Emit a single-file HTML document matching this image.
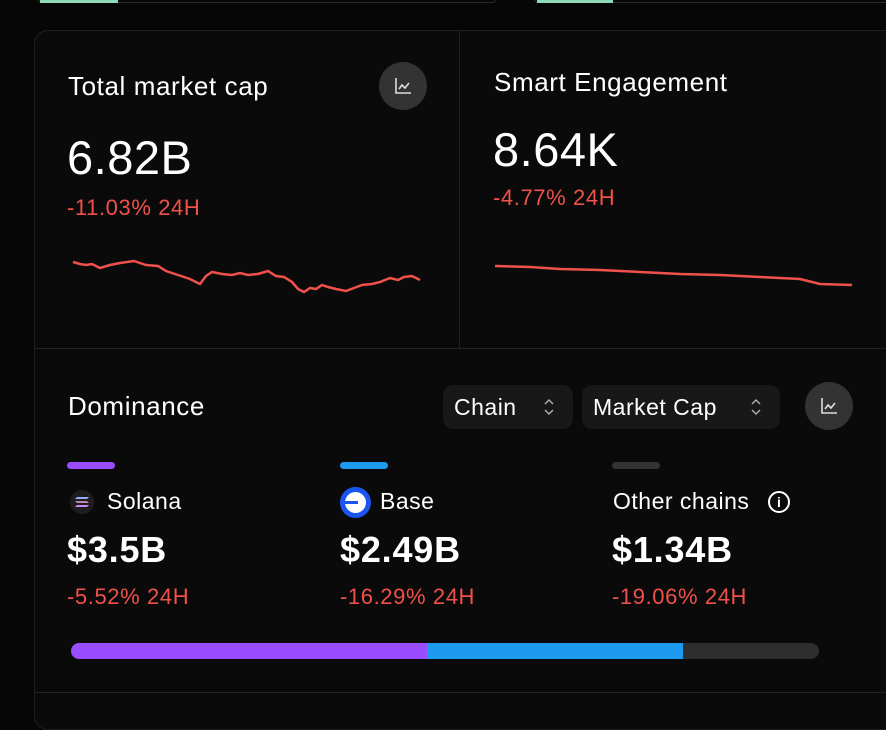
<!DOCTYPE html>
<html><head><meta charset="utf-8"><style>
*{margin:0;padding:0;box-sizing:border-box}
body{width:886px;height:710px;background:#060606;position:relative;overflow:hidden;font-family:"Liberation Sans",sans-serif;color:#fff}
.a{position:absolute;white-space:nowrap}
.t{font-size:26px;line-height:1;letter-spacing:0.6px}
.big{font-size:47px;line-height:1;letter-spacing:0.5px}
.red{color:#f0514a;font-size:22px;line-height:1;letter-spacing:0.6px}
.val{font-size:36px;font-weight:bold;line-height:1;letter-spacing:0.8px}
.nm{font-size:23px;line-height:1;letter-spacing:0.5px}
.btn{position:absolute;background:#181818;border-radius:10px;height:44px;font-size:23px;line-height:44px;padding-left:11px;letter-spacing:0.5px}
.circ{position:absolute;width:48px;height:48px;border-radius:50%;background:#333}
</style></head><body>
<div class="a" style="left:36px;top:-10px;width:462px;height:13px;border:1px solid #2a2a2a;border-radius:8px"></div>
<div class="a" style="left:40px;top:0;width:78px;height:3px;background:#8fd9b6"></div>
<div class="a" style="left:533px;top:-10px;width:360px;height:13px;border:1px solid #2a2a2a;border-radius:8px"></div>
<div class="a" style="left:537px;top:0;width:76px;height:3px;background:#8fd9b6"></div>
<div class="a" style="left:34px;top:30px;width:870px;height:700px;border:1px solid #1f1f1f;border-radius:14px;background:#0a0a0a"></div>
<div class="a" style="left:459px;top:31px;width:1px;height:318px;background:#222"></div>
<div class="a" style="left:35px;top:348px;width:851px;height:1px;background:#222"></div>
<div class="a" style="left:35px;top:692px;width:851px;height:1px;background:#222"></div>

<div class="a t" style="left:68px;top:73px">Total market cap</div>
<div class="circ" style="left:379px;top:62px"></div>
<svg class="a" style="left:393px;top:76px" width="20" height="20" viewBox="0 0 20 20"><path d="M3 2v15h15" stroke="#ddd" stroke-width="1.6" fill="none"/><path d="M6 13l3-4 3 3 4-5" stroke="#ddd" stroke-width="1.6" fill="none"/></svg>
<div class="a big" style="left:67px;top:134px">6.82B</div>
<div class="a red" style="left:67px;top:197px">-11.03% 24H</div>
<svg class="a" style="left:0;top:0" width="886" height="360"><polyline fill="none" stroke="#f0514a" stroke-width="2.5" points="73,262 80,264 86,265 92,264 100,268 110,265 120,263 134,261 146,265 158,266 166,271 178,275 190,279 200,284 206,276 212,272 222,274 232,275 240,273 248,275 258,274 268,271 276,276 284,277 292,282 298,289 304,292 310,288 316,289 322,285 328,287 336,289 346,291 354,288 362,285 372,284 380,282 390,278 398,280 404,277 412,276 420,280"/>
<polyline fill="none" stroke="#f0514a" stroke-width="2.5" points="495,266 530,267 560,269 600,270 640,272 680,274 720,275 760,277 800,279 820,284 852,285"/></svg>

<div class="a t" style="left:494px;top:69px">Smart Engagement</div>
<div class="a big" style="left:493px;top:126px">8.64K</div>
<div class="a red" style="left:493px;top:187px">-4.77% 24H</div>

<div class="a t" style="left:68px;top:393px">Dominance</div>
<div class="btn" style="left:443px;top:385px;width:130px">Chain
<svg class="a" style="right:18px;top:12px" width="12" height="20" viewBox="0 0 12 20"><path d="M2 7l4-4 4 4M2 13l4 4 4-4" stroke="#aaa" stroke-width="1.5" fill="none"/></svg></div>
<div class="btn" style="left:582px;top:385px;width:198px">Market Cap
<svg class="a" style="right:18px;top:12px" width="12" height="20" viewBox="0 0 12 20"><path d="M2 7l4-4 4 4M2 13l4 4 4-4" stroke="#aaa" stroke-width="1.5" fill="none"/></svg></div>
<div class="circ" style="left:805px;top:382px"></div>
<svg class="a" style="left:819px;top:396px" width="20" height="20" viewBox="0 0 20 20"><path d="M3 2v15h15" stroke="#ddd" stroke-width="1.6" fill="none"/><path d="M6 13l3-4 3 3 4-5" stroke="#ddd" stroke-width="1.6" fill="none"/></svg>

<div class="a" style="left:67px;top:462px;width:48px;height:7px;border-radius:4px;background:#9a4dff"></div>
<div class="a" style="left:340px;top:462px;width:48px;height:7px;border-radius:4px;background:#1d9bf0"></div>
<div class="a" style="left:612px;top:462px;width:48px;height:7px;border-radius:4px;background:#333"></div>

<div class="a" style="left:70px;top:490px;width:24px;height:24px;border-radius:50%;background:#1e1e1e"></div>
<svg class="a" style="left:74px;top:495px" width="16" height="14"><path d="M3 2h12l-2 2H1z" fill="#9af"/><path d="M1 6h12l2 2H3z" fill="#b8a"/><path d="M3 10h12l-2 2H1z" fill="#c8f"/></svg>
<div class="a nm" style="left:107px;top:490px">Solana</div>
<div class="a" style="left:340px;top:487px;width:31px;height:31px;border-radius:50%;background:#1a55f0"></div>
<div class="a" style="left:345px;top:492px;width:21px;height:21px;border-radius:50%;background:#fff"></div>
<div class="a" style="left:344px;top:501px;width:14px;height:3px;background:#1a55f0"></div>
<div class="a nm" style="left:380px;top:490px">Base</div>
<div class="a nm" style="left:613px;top:490px">Other chains</div>
<div class="a" style="left:768px;top:491px;width:22px;height:22px;border:2px solid #fff;border-radius:50%;font-size:14px;line-height:18px;text-align:center;font-weight:bold">i</div>

<div class="a val" style="left:67px;top:532px">$3.5B</div>
<div class="a val" style="left:340px;top:532px">$2.49B</div>
<div class="a val" style="left:612px;top:532px">$1.34B</div>
<div class="a red" style="left:67px;top:586px">-5.52% 24H</div>
<div class="a red" style="left:340px;top:586px">-16.29% 24H</div>
<div class="a red" style="left:612px;top:586px">-19.06% 24H</div>

<div class="a" style="left:71px;top:643px;width:748px;height:16px;border-radius:8px;background:#2e2e2e;overflow:hidden"><div style="position:absolute;left:0;top:0;width:356px;height:16px;background:#9a4dff"></div><div style="position:absolute;left:356px;top:0;width:256px;height:16px;background:#1d9bf0"></div></div>
</body></html>
